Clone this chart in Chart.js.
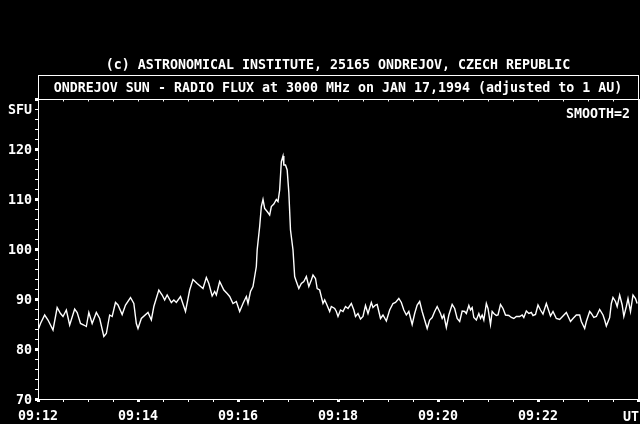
<!DOCTYPE html>
<html>
<head>
<meta charset="utf-8">
<script src="https://cdn.jsdelivr.net/npm/chart.js@4.4.1/dist/chart.umd.min.js"></script>
<style>
  html,body{margin:0;padding:0;background:#000;overflow:hidden}
  canvas{display:block}
</style>
</head>
<body>
<canvas id="c" width="640" height="424"></canvas>
<script>
// Ondrejov 3000 MHz solar flux, 17 Jan 1994, 09:12-09:24 UT (seconds after 09:12)
var secs = [0,3,8,12,18,23,27,30,34,38,44,47,51,55,58,61,65,70,74,79,82,86,89,93,96,101,105,111,115,118,
  120,124,132,136,139,145,149,152,155,160,163,166,171,177,182,186,191,198,202,205,209,212,214,218,223,227,
  230,234,238,242,246,250,252,255,258,262,263,266,268,270,272,275,278,280,283,286,288,290,292,294,295,297,299,
  301,303,306,308,310,313,316,319,322,325,328,330,333,335,338,342,344,346,350,352,356,358,
  360,363,366,369,372,376,379,381,384,387,390,393,396,400,402,405,407,411,414,418,422,426,429,433,436,439,
  442,445,449,452,455,458,461,464,467,470,473,476,479,
  483,485,487,490,493,497,500,503,506,509,512,514,517,519,521,523,526,529,531,533,535,538,540,543,545,547,
  550,552,555,558,561,565,568,571,574,578,581,583,586,589,592,594,597,
  600,603,606,610,612,615,618,622,626,630,634,639,642,646,650,652,656,658,662,664,667,670,674,678,680,682,
  686,688,690,693,695,698,701,703,706,708,711,714,717,719];
var sfu = [83.8,85.1,86.8,85.8,83.8,88.3,87.1,86.5,87.8,84.8,88.0,87.3,85.1,84.8,84.5,87.3,85.1,87.3,86.1,82.5,83.1,86.8,86.5,89.3,88.8,86.9,88.8,90.3,89.1,85.1,
  84.1,86.1,87.3,85.8,88.5,91.8,90.8,89.8,90.8,89.3,89.8,89.3,90.5,87.5,91.8,93.9,93.1,92.1,94.3,93.1,90.6,91.5,90.8,93.5,91.8,91.1,
  90.5,89.1,89.5,87.5,89.1,90.5,89.1,91.5,92.5,96.5,99.8,104.5,108.5,109.9,108.1,107.5,106.8,108.5,109.0,109.9,109.5,111.8,117.5,118.6,116.8,116.8,115.8,
  111.3,103.8,99.8,94.5,93.5,92.1,93.1,93.5,94.5,92.5,93.8,94.8,94.1,92.1,91.8,89.1,89.8,89.1,87.5,88.5,88.1,87.5,
  86.5,87.8,87.5,88.5,88.1,89.1,87.8,86.5,87.1,86.0,86.5,88.7,87.1,89.3,88.3,88.8,88.9,86.1,86.8,85.6,87.8,89.1,89.3,90.1,89.3,87.8,
  86.8,87.5,84.9,87.1,88.8,89.5,87.5,85.8,84.1,85.8,86.3,87.5,88.5,
  87.1,86.1,86.8,84.3,86.8,88.9,88.1,86.1,85.5,87.6,87.5,87.1,88.7,87.8,88.3,86.3,85.8,87.1,86.1,86.8,85.8,89.1,88.1,84.9,87.5,87.1,
  86.7,86.8,88.9,88.1,86.8,86.7,86.3,86.1,86.5,86.5,86.8,86.3,87.6,87.1,87.3,86.7,86.9,
  88.8,87.8,87.0,89.1,88.1,86.6,87.5,86.1,85.9,86.6,87.3,85.5,86.1,86.8,86.8,85.5,84.1,85.5,87.5,87.1,86.3,86.5,87.9,86.8,85.8,84.6,
  86.3,89.1,90.3,89.5,88.5,90.8,88.8,86.5,88.5,90.1,87.5,90.8,90.1,89.1];

var copyrightText = "(c) ASTRONOMICAL INSTITUTE, 25165 ONDREJOV, CZECH REPUBLIC";
var titleText = "ONDREJOV SUN - RADIO FLUX at 3000 MHz on JAN 17,1994 (adjusted to 1 AU)";
var smoothText = "SMOOTH=2";
var yUnit = "SFU", xUnit = "UT";
var yMin = 70, yMax = 130, yStep = 2, yLabelStep = 10, yUnitAt = 128;
var xMax = 720, xStep = 30, xLabelStep = 120, startMin = 12;

var FONT = 'bold 13.3px "DejaVu Sans Mono"';
Chart.defaults.font.family = '"DejaVu Sans Mono", monospace';
Chart.defaults.font.size = 13.3;
Chart.defaults.font.weight = 'bold';
Chart.defaults.color = '#fff';

function hhmm(v){ var m = startMin + v/60; return "09:" + (m<10?"0":"") + m; }

var frame = {
  id: 'frame',
  beforeDraw: function(ch){
    var c = ch.ctx; c.save(); c.fillStyle = '#000'; c.fillRect(0,0,ch.width,ch.height); c.restore();
  },
  afterDraw: function(ch){
    var c = ch.ctx, a = ch.chartArea, xs = ch.scales.x;
    var mid = (a.left + a.right)/2;
    c.save();
    c.strokeStyle = '#fff'; c.fillStyle = '#fff'; c.lineWidth = 1;
    // header box and plot frame (top + right)
    c.strokeRect(Math.round(a.left)+0.5, 75.5, Math.round(a.right - a.left), Math.round(a.top) - 75);
    c.fillRect(Math.round(a.right), a.top, 2, a.bottom - a.top + 1);
    // small ticks hanging from the top edge
    xs.ticks.forEach(function(t){
      var px = Math.round(xs.getPixelForValue(t.value)) + 0.5;
      c.beginPath(); c.moveTo(px, a.top); c.lineTo(px, a.top + 2.5); c.stroke();
    });
    c.font = FONT; c.textBaseline = 'middle';
    c.textAlign = 'center';
    c.fillText(copyrightText, mid, 65.5);
    c.fillText(titleText, mid, 88.5);
    c.textAlign = 'right';
    c.fillText(smoothText, 630, 114.5);
    c.fillText(xUnit, 639, 417.5);
    c.restore();
  }
};

new Chart(document.getElementById('c'), {
  type: 'line',
  data: { datasets: [{
    data: secs.map(function(s,i){ return {x:s, y:sfu[i]}; }),
    borderColor: '#fff', borderWidth: 1.4, pointRadius: 0, tension: 0, fill: false
  }]},
  options: {
    responsive: false, animation: false, events: [],
    layout: { padding: { top: 99, right: 2, left: 0, bottom: 0 } },
    plugins: { legend: {display:false}, tooltip: {enabled:false}, title: {display:false} },
    scales: {
      x: {
        type: 'linear', min: 0, max: xMax,
        border: { display: true, color: '#fff', width: 1 },
        grid: { drawOnChartArea: false, drawTicks: true, tickLength: 3, tickColor: '#fff',
          tickWidth: function(ctx){ return ctx.tick && ctx.tick.value % xLabelStep === 0 ? 3 : 1; } },
        ticks: { stepSize: xStep, autoSkip: false, maxRotation: 0, padding: 7, color: '#fff',
          callback: function(v){ return (v % xLabelStep === 0 && v < xMax) ? hhmm(v) : ''; } },
        afterFit: function(s){ s.height = 25; s.paddingLeft = 0; s.paddingRight = 0; }
      },
      y: {
        min: yMin, max: yMax,
        border: { display: true, color: '#fff', width: 1 },
        grid: { drawOnChartArea: false, drawTicks: true, tickLength: 3, tickColor: '#fff',
          tickWidth: function(ctx){ return ctx.tick && ctx.tick.value % yLabelStep === 0 ? 3 : 1; } },
        ticks: { stepSize: yStep, autoSkip: false, padding: 3, color: '#fff', labelOffset: 1.5,
          callback: function(v){
            if (v === yUnitAt) return yUnit;
            return (v % yLabelStep === 0 && v < yMax) ? String(v) : '';
          } },
        afterFit: function(s){ s.width = 38; s.paddingTop = 0; s.paddingBottom = 0; }
      }
    }
  },
  plugins: [frame]
});
</script>
</body>
</html>
